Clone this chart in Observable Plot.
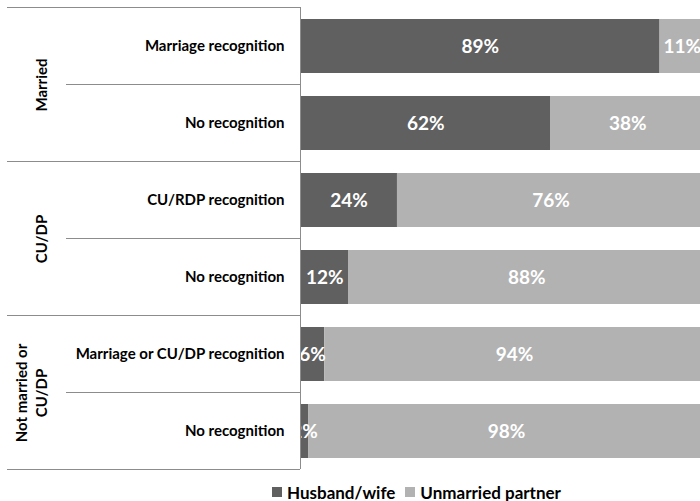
<!DOCTYPE html>
<html>
<head>
<meta charset="utf-8">
<script src="https://cdn.jsdelivr.net/npm/d3@7"></script>
<script src="https://cdn.jsdelivr.net/npm/@observablehq/plot@0.6"></script>
<style>
  html, body { margin: 0; padding: 0; background: #fff; overflow: hidden; }
  #wrap { position: relative; width: 700px; height: 501px; }
  #wrap svg { overflow: hidden; }
  #legend { position: absolute; top: 482px; left: 272px; display: flex; align-items: center; height: 20px;
            font: bold 17px Lato, sans-serif; color: #000; white-space: nowrap; }
  #legend .item { display: flex; align-items: center; margin-right: 10px; }
  #legend .sw { width: 10px; height: 10px; margin-right: 5px; }
</style>
</head>
<body>
<div id="wrap"></div>
<script>
const groups = ["Married", "Married", "CU/DP", "CU/DP", "Not married or\nCU/DP", "Not married or\nCU/DP"];
const categories = ["Marriage recognition", "No recognition", "CU/RDP recognition", "No recognition", "Marriage or CU/DP recognition", "No recognition"];
const husbandWife = [89, 62, 24, 12, 6, 2];
const unmarriedPartner = [11, 38, 76, 88, 94, 98];
const seriesNames = ["Husband/wife", "Unmarried partner"];
const seriesColors = ["#606060", "#b2b2b2"];

const keys = categories.map((c, i) => groups[i] + "|" + c);
const rows = [];
keys.forEach((k, i) => {
  rows.push({key: k, series: seriesNames[0], value: husbandWife[i]});
  rows.push({key: k, series: seriesNames[1], value: unmarriedPartner[i]});
});
const groupFirst = keys.filter((k, i) => i === 0 || groups[i] !== groups[i - 1]);
const groupLabels = groupFirst.map(k => ({key: k, label: k.split("|")[0]}));

const H = 470, MT = 7, MB = 1;
const step = (H - MT - MB) / keys.length;

const separators = (index, scales, values, dimensions) => {
  const g = d3.create("svg:g").attr("stroke", "#8c8c8c").attr("stroke-width", 1).attr("shape-rendering", "crispEdges");
  const y = scales.y;
  keys.forEach((k, i) => {
    const top = y(k) - 0.15 * step;
    const first = i === 0 || groups[i] !== groups[i - 1];
    g.append("line").attr("x1", first ? 7 : 66).attr("x2", 300).attr("y1", top).attr("y2", top);
  });
  const last = y(keys[keys.length - 1]) + 0.85 * step;
  g.append("line").attr("x1", 7).attr("x2", 300).attr("y1", last).attr("y2", last);
  g.append("line").attr("x1", 300).attr("x2", 300).attr("y1", MT).attr("y2", last);
  return g.node();
};

const plot = Plot.plot({
  width: 700,
  height: H,
  marginTop: MT,
  marginBottom: MB,
  marginLeft: 300,
  marginRight: 0,
  style: {fontFamily: "Lato, sans-serif", background: "#fff"},
  x: {domain: [0, 100], range: [300, 704], axis: null},
  y: {domain: keys, paddingInner: 0.3, paddingOuter: 0.15, label: null,
      tickSize: 0, tickPadding: 16, tickFormat: k => k.split("|")[1]},
  color: {domain: seriesNames, range: seriesColors},
  marks: [
    Plot.barX(rows, Plot.stackX({x: "value", y: "key", fill: "series", order: seriesNames})),
    Plot.text(rows, Plot.stackX({x: "value", y: "key", z: "series", order: seriesNames,
      text: d => d.value + "%", fill: "#fff", fontSize: 19, fontWeight: "bold"})),
    Plot.text(groupLabels, {y: "key", text: "label", frameAnchor: "left", textAnchor: "middle",
      dx: -254, dy: step / 2, rotate: -90, fontSize: 15, fontWeight: "bold", fill: "#000",
      lineAnchor: "bottom", lineHeight: 1.3}),
    separators
  ]
});

const wrap = document.getElementById("wrap");
wrap.appendChild(plot);
d3.select(plot).selectAll("g[aria-label='y-axis tick label']")
  .attr("font-size", 15).attr("font-weight", "bold").attr("fill", "#000");

const legend = document.createElement("div");
legend.id = "legend";
seriesNames.forEach((s, i) => {
  const item = document.createElement("span");
  item.className = "item";
  const sw = document.createElement("span");
  sw.className = "sw";
  sw.style.background = seriesColors[i];
  item.appendChild(sw);
  item.appendChild(document.createTextNode(s));
  legend.appendChild(item);
});
wrap.appendChild(legend);
</script>
</body>
</html>
